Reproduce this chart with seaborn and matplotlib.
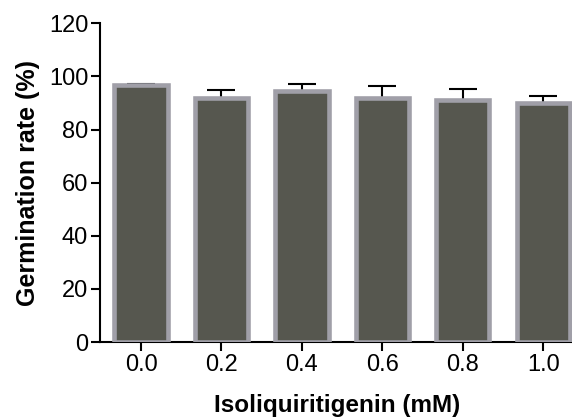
import numpy as np
import pandas as pd
import seaborn as sns
import matplotlib
matplotlib.use('Agg')
import matplotlib.pyplot as plt

sns.set_style('ticks')
plt.rcParams['font.family'] = ['Liberation Sans', 'DejaVu Sans']
plt.rcParams['text.color'] = 'black'
plt.rcParams['axes.labelcolor'] = 'black'
plt.rcParams['xtick.color'] = 'black'
plt.rcParams['ytick.color'] = 'black'

# data
concentrations = ['0.0', '0.2', '0.4', '0.6', '0.8', '1.0']
germination = [96.7, 92.0, 94.6, 92.0, 91.1, 90.1]
sem = [0.3, 2.9, 2.4, 4.5, 4.1, 2.4]

df = pd.DataFrame({'conc': concentrations, 'rate': germination, 'sem': sem})

BAR_COLOR = '#56574f'
EDGE_COLOR = '#a09fa8'

fig = plt.figure(figsize=(5.72, 4.2), dpi=100)
ax = fig.add_axes([0.1748, 0.1857, 0.83, 0.7588])

sns.barplot(data=df, x='conc', y='rate', color=BAR_COLOR, edgecolor=EDGE_COLOR,
            linewidth=3.3, width=0.66, saturation=1, errorbar=None, ax=ax, zorder=3)

# error bars sit behind the bars, so only the upper half shows
ax.errorbar(np.arange(len(df)), df['rate'], yerr=df['sem'], fmt='none',
            ecolor='black', elinewidth=1.5, capsize=10, capthick=1.5, zorder=1)

ax.set_ylim(0, 120)
ax.set_yticks(np.arange(0, 121, 20))
ax.set_xlim(-0.51, 5.39)

sns.despine(ax=ax)
for side in ['left', 'bottom']:
    ax.spines[side].set_linewidth(1.5)
    ax.spines[side].set_color('black')
ax.tick_params(axis='both', width=1.5, length=6.5, labelsize=17, color='black',
               labelcolor='black', pad=2)

ax.set_ylabel('Germination rate (%)', fontsize=18, fontweight='bold', labelpad=6)
ax.set_xlabel('Isoliquiritigenin (mM)', fontsize=17.5, fontweight='bold', labelpad=13)

fig.savefig('out.png', dpi=100)
